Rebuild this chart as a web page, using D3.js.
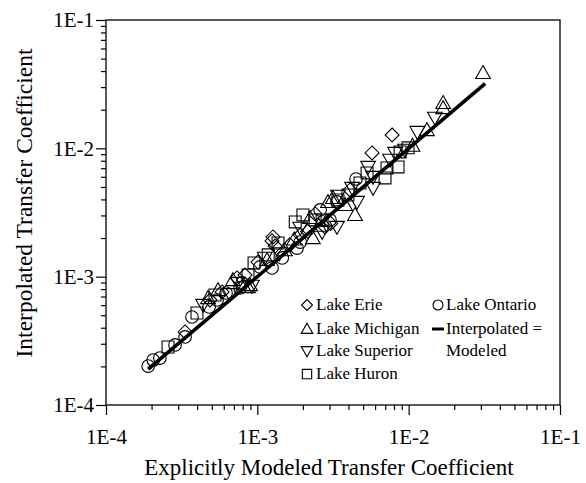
<!DOCTYPE html>
<html><head><meta charset="utf-8">
<script src="https://cdn.jsdelivr.net/npm/d3@7"></script>
<style>body{margin:0;background:#fff;} svg{display:block;}</style>
</head><body>
<script>
// ---- data ----
const xTickValues = [1e-4, 1e-3, 1e-2, 1e-1];
const xTickLabels = ["1E-4", "1E-3", "1E-2", "1E-1"];
const yTickValues = [1e-4, 1e-3, 1e-2, 1e-1];
const yTickLabels = ["1E-4", "1E-3", "1E-2", "1E-1"];
const xTitle = "Explicitly Modeled Transfer Coefficient";
const yTitle = "Interpolated Transfer Coefficient";

// [explicit, interpolated]
const lakeErie = [[3.33e-4,3.71e-4],[5.85e-4,7.60e-4],[7.34e-4,9.77e-4],[1.01e-3,1.30e-3],[1.27e-3,2.04e-3],[1.25e-3,1.90e-3],
  [1.31e-3,1.73e-3],[2.80e-3,2.44e-3],[1.92e-3,2.11e-3],[5.73e-3,9.20e-3],[7.77e-3,1.27e-2],[2.41e-3,3.08e-3],[8.29e-4,1.03e-3],
  [4.10e-3,4.74e-3],[1.64e-3,1.77e-3],[4.87e-4,6.58e-4],[3.05e-3,2.60e-3],[2.15e-3,2.25e-3]];
const lakeMichigan = [[4.72e-4,6.82e-4],[5.50e-4,7.87e-4],[6.90e-4,9.42e-4],[1.16e-3,1.35e-3],[2.33e-3,2.00e-3],[2.23e-3,2.87e-3],
  [3.16e-3,4.11e-3],[2.93e-3,3.82e-3],[4.42e-3,3.03e-3],[1.32e-2,1.39e-2],[1.69e-2,2.26e-2],[1.69e-2,2.06e-2],[3.10e-2,3.87e-2],
  [8.95e-4,8.61e-4],[1.52e-3,1.61e-3],[3.80e-3,3.62e-3],[8.68e-4,8.31e-4],[2.55e-3,2.50e-3],[1.06e-2,1.05e-2],[1.75e-3,1.95e-3]];
const lakeSuperior = [[9.22e-4,8.47e-4],[7.45e-4,8.93e-4],[3.36e-3,2.44e-3],[3.41e-3,4.26e-3],[4.23e-3,4.91e-3],[4.56e-3,3.82e-3],
  [5.82e-3,4.91e-3],[5.39e-3,7.16e-3],[5.82e-3,5.98e-3],[8.13e-3,9.20e-3],[9.46e-3,9.72e-3],[1.14e-2,1.34e-2],[1.49e-2,1.73e-2],
  [4.38e-4,6.02e-4],[1.12e-3,1.40e-3],[1.92e-3,2.40e-3],[2.68e-3,2.23e-3],[7.54e-3,8.13e-3],[6.60e-4,7.30e-4],[1.40e-3,1.52e-3]];
const lakeHuron = [[2.57e-4,2.83e-4],[3.99e-4,5.21e-4],[5.25e-4,7.20e-4],[8.68e-4,1.03e-3],[9.51e-4,1.28e-3],[1.18e-3,1.48e-3],
  [1.37e-3,1.83e-3],[1.78e-3,2.67e-3],[2.00e-3,3.03e-3],[2.68e-3,2.77e-3],[3.41e-3,3.96e-3],[3.97e-3,4.33e-3],[5.31e-3,6.43e-3],
  [6.98e-3,5.88e-3],[7.19e-3,7.03e-3],[8.51e-3,7.16e-3],[8.77e-3,9.38e-3],[9.91e-3,1.01e-2],[2.41e-3,2.77e-3],[4.77e-3,5.37e-3]];
const lakeOntario = [[1.90e-4,2.01e-4],[2.05e-4,2.24e-4],[2.27e-4,2.32e-4],[3.33e-4,3.39e-4],[3.70e-4,4.85e-4],[4.80e-4,5.81e-4],
  [5.42e-4,6.58e-4],[6.21e-4,7.46e-4],[7.93e-4,8.93e-4],[1.04e-3,1.19e-3],[1.25e-3,1.17e-3],[1.46e-3,1.40e-3],[1.83e-3,1.67e-3],
  [2.60e-3,3.31e-3],[4.49e-3,5.77e-3],[3.36e-3,3.82e-3],[1.92e-3,1.86e-3],[3.02e-3,2.77e-3],[7.69e-4,8.17e-4],[2.86e-4,2.94e-4]];
const fitLine = [[1.9e-4,1.9e-4],[3.2e-2,3.2e-2]];

const legendLeft = ["Lake Erie","Lake Michigan","Lake Superior","Lake Huron"];
const legendRight = ["Lake Ontario","Interpolated =","Modeled"];

// ---- drawing ----
const FONT = "Liberation Serif";
const W=586,H=483;
const m={l:106,t:20,r:26,b:78};
const svg=d3.select("body").append("svg").attr("width",W).attr("height",H);
const x=d3.scaleLog().domain([1e-4,1e-1]).range([m.l,W-m.r]);
const y=d3.scaleLog().domain([1e-4,1e-1]).range([H-m.b,m.t]);

const minorTicks=[];
for(let e=-4;e<-1;e++)for(let k=2;k<=9;k++)minorTicks.push(k*Math.pow(10,e));

// frame
svg.append("rect").attr("x",m.l).attr("y",m.t).attr("width",W-m.r-m.l).attr("height",H-m.b-m.t)
  .attr("fill","none").attr("stroke","#000").attr("stroke-width",1.3);

// x axis
const gx=svg.append("g").attr("transform",`translate(0,${H-m.b})`);
gx.call(d3.axisBottom(x).tickValues(xTickValues).tickFormat((d,i)=>xTickLabels[i]).tickSize(10).tickPadding(14));
gx.append("g").call(d3.axisBottom(x).tickValues(minorTicks).tickFormat("").tickSize(5));
gx.selectAll("line").attr("stroke","#000").attr("stroke-width",1.2);
gx.selectAll("text").style("font-size","21px").style("font-family",FONT).attr("fill","#000").attr("dy","0.71em");

const gy=svg.append("g").attr("transform",`translate(${m.l},0)`);
gy.call(d3.axisLeft(y).tickValues(yTickValues).tickFormat((d,i)=>yTickLabels[i]).tickSize(10).tickPadding(2));
gy.append("g").call(d3.axisLeft(y).tickValues(minorTicks).tickFormat("").tickSize(5));
gy.selectAll("line").attr("stroke","#000").attr("stroke-width",1.2);
gy.selectAll("text").style("font-size","21px").style("font-family",FONT).attr("fill","#000");
gx.selectAll(".domain").remove(); gy.selectAll(".domain").remove();

// titles
svg.append("text").attr("x",329).attr("y",475).attr("text-anchor","middle")
  .style("font-size","23px").style("font-family",FONT).text(xTitle);
svg.append("text").attr("transform","translate(32,203) rotate(-90)").attr("text-anchor","middle")
  .style("font-size","23.5px").style("font-family",FONT).text(yTitle);

// markers
const sz=7;
function shapePath(type,s){
  if(type==="diamond")return `M0,${-s}L${s},0L0,${s}L${-s},0Z`;
  if(type==="up")return `M0,${-s*1.05}L${s*1.05},${s*0.8}L${-s*1.05},${s*0.8}Z`;
  if(type==="down")return `M0,${s*1.05}L${s*1.05},${-s*0.8}L${-s*1.05},${-s*0.8}Z`;
  if(type==="square")return `M${-s*0.85},${-s*0.85}H${s*0.85}V${s*0.85}H${-s*0.85}Z`;
  if(type==="circle")return d3.arc()({innerRadius:0,outerRadius:s*0.9,startAngle:0,endAngle:2*Math.PI});
}
const series=[[lakeErie,"diamond"],[lakeMichigan,"up"],[lakeSuperior,"down"],[lakeHuron,"square"],[lakeOntario,"circle"]];
const gp=svg.append("g");
series.forEach(([data,type])=>{
  gp.selectAll(null).data(data).enter().append("path")
    .attr("transform",d=>`translate(${x(d[0])},${y(d[1])})`)
    .attr("d",shapePath(type,sz)).attr("fill","none").attr("stroke","#000").attr("stroke-width",1.1);
});

// line
svg.append("path").datum(fitLine).attr("d",d3.line().x(d=>x(d[0])).y(d=>y(d[1])))
  .attr("stroke","#000").attr("stroke-width",3.6).attr("fill","none");

// legend
const lg=svg.append("g");
const rows=[305,329,351,374];
const types=["diamond","up","down","square"];
function ltext(xx,yy,t){
  lg.append("text").attr("x",xx).attr("y",yy).style("font-size","17px").style("font-family",FONT).attr("fill","#000").text(t);
}
legendLeft.forEach((t,i)=>{
  lg.append("path").attr("transform",`translate(307,${rows[i]})`).attr("d",shapePath(types[i],5.5))
    .attr("fill","none").attr("stroke","#000").attr("stroke-width",1.1);
  ltext(316,rows[i]+5,t);
});
lg.append("path").attr("transform",`translate(438,305)`).attr("d",shapePath("circle",5.5))
  .attr("fill","none").attr("stroke","#000").attr("stroke-width",1.1);
ltext(446,310,legendRight[0]);
lg.append("line").attr("x1",432).attr("x2",444).attr("y1",329).attr("y2",329).attr("stroke","#000").attr("stroke-width",3);
ltext(446,334,legendRight[1]);
ltext(446,356,legendRight[2]);
</script>
</body></html>
